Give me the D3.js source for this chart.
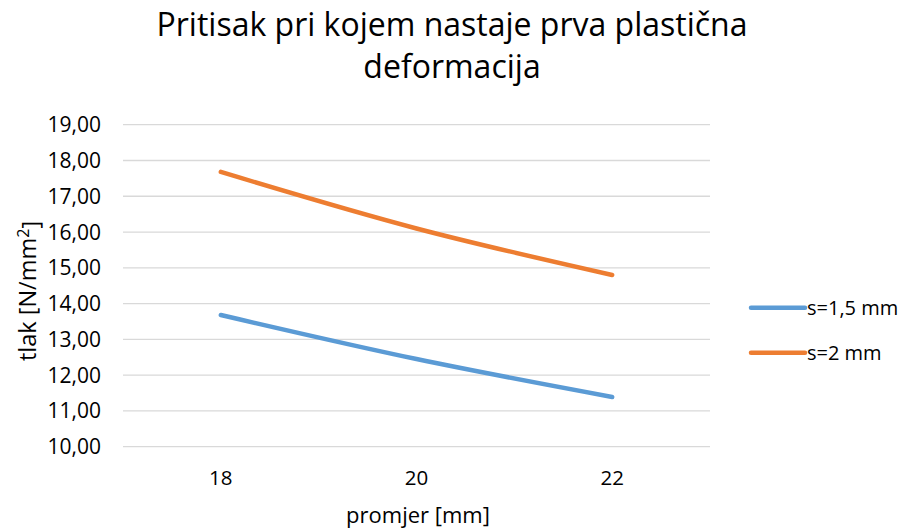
<!DOCTYPE html>
<html>
<head>
<meta charset="utf-8">
<script src="https://cdn.jsdelivr.net/npm/d3@7"></script>
<style>
  body { margin: 0; background: #fff; }
  text { font-family: "Open Sans", sans-serif; fill: #000; }
</style>
</head>
<body>
<svg id="chart" width="905" height="528"></svg>
<script>
const categories = ["18", "20", "22"];
const yTicks = [10, 11, 12, 13, 14, 15, 16, 17, 18, 19];
const seriesNames = ["s=1,5 mm", "s=2 mm"];
const s15 = [13.68, 12.45, 11.39];
const s2 = [17.68, 16.10, 14.80];
const colors = ["#5b9bd5", "#ed7d31"];

const svg = d3.select("#chart");
const plotLeft = 123, plotRight = 710, plotTop = 124.7, plotBottom = 446.7;

const x = d3.scaleBand().domain(categories).range([plotLeft, plotRight]);
const y = d3.scaleLinear().domain([10, 19]).range([plotBottom, plotTop]);

// gridlines
svg.append("g")
  .selectAll("line")
  .data(yTicks)
  .join("line")
  .attr("x1", plotLeft).attr("x2", plotRight)
  .attr("y1", d => y(d)).attr("y2", d => y(d))
  .attr("stroke", "#d9d9d9")
  .attr("stroke-width", 1.3);

// y labels
svg.append("g")
  .selectAll("text")
  .data(yTicks)
  .join("text")
  .attr("x", 101)
  .attr("y", d => y(d))
  .attr("dy", "0.36em")
  .attr("text-anchor", "end")
  .style("font-size", "21px")
  .text(d => d3.format(".2f")(d).replace(".", ","));

// x labels
svg.append("g")
  .selectAll("text")
  .data(categories)
  .join("text")
  .attr("x", d => x(d) + x.bandwidth() / 2)
  .attr("y", 485)
  .attr("text-anchor", "middle")
  .style("font-size", "20.5px")
  .text(d => d);

const line = d3.line()
  .x((d, i) => x(categories[i]) + x.bandwidth() / 2)
  .y(d => y(d))
  .curve(d3.curveCatmullRom);

[s15, s2].forEach((s, k) => {
  svg.append("path")
    .datum(s)
    .attr("d", line)
    .attr("fill", "none")
    .attr("stroke", colors[k])
    .attr("stroke-width", 4.5)
    .attr("stroke-linecap", "round");
});

// title
svg.append("text")
  .attr("x", 452).attr("y", 36)
  .attr("text-anchor", "middle")
  .style("font-size", "32px")
  .text("Pritisak pri kojem nastaje prva plastična");
svg.append("text")
  .attr("x", 452).attr("y", 78)
  .attr("text-anchor", "middle")
  .style("font-size", "32px")
  .text("deformacija");

// axis titles
svg.append("text")
  .attr("x", 418).attr("y", 523)
  .attr("text-anchor", "middle")
  .style("font-size", "22px")
  .text("promjer [mm]");

const yt = svg.append("text")
  .attr("transform", "translate(36,291) rotate(-90)")
  .attr("text-anchor", "middle")
  .style("font-size", "23.5px");
yt.append("tspan").text("tlak [N/mm");
yt.append("tspan").attr("dy", "-0.42em").style("font-size", "16px").text("2");
yt.append("tspan").attr("dy", "0.42em").text("]");

// legend
const lg = svg.append("g")
  .selectAll("g")
  .data(seriesNames)
  .join("g")
  .attr("transform", (d, i) => `translate(0, ${307.7 + i * 45})`);
lg.append("line")
  .attr("x1", 751).attr("x2", 805)
  .attr("stroke", (d, i) => colors[i])
  .attr("stroke-width", 4.5)
  .attr("stroke-linecap", "round");
lg.append("text")
  .attr("x", 807).attr("dy", "0.36em")
  .style("font-size", "20px")
  .text(d => d);
</script>
</body>
</html>
